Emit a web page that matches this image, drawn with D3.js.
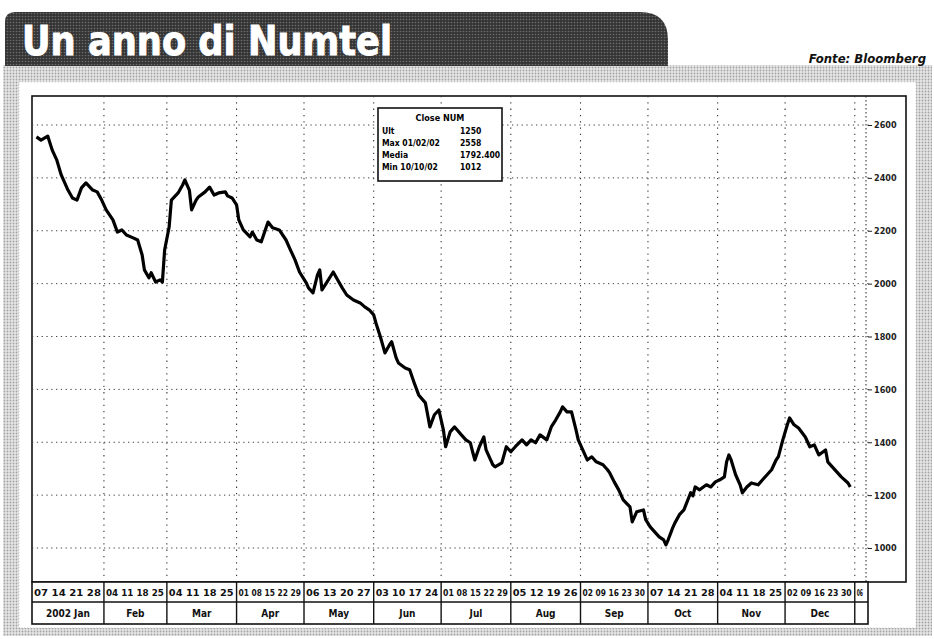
<!DOCTYPE html>
<html>
<head>
<meta charset="utf-8">
<script src="https://cdn.jsdelivr.net/npm/d3@7"></script>
<style>
  body { margin: 0; background: #fff; }
  text { font-family: "Liberation Sans Narrow", "DejaVu Sans Condensed", "Liberation Sans", sans-serif; }
</style>
</head>
<body>
<svg id="chart"></svg>
<script>
// Price series (close)
const dates = [
  "2002-01-02","2002-01-04","2002-01-07","2002-01-09","2002-01-11","2002-01-13","2002-01-16","2002-01-18","2002-01-20","2002-01-22",
  "2002-01-24","2002-01-27","2002-01-29","2002-01-31","2002-02-02","2002-02-05","2002-02-07","2002-02-09","2002-02-11","2002-02-14",
  "2002-02-16","2002-02-18","2002-02-19","2002-02-21","2002-02-22","2002-02-24","2002-02-26","2002-02-27","2002-02-28","2002-03-02",
  "2002-03-03","2002-03-06","2002-03-08","2002-03-09","2002-03-11","2002-03-12","2002-03-14","2002-03-15","2002-03-18","2002-03-20",
  "2002-03-22","2002-03-24","2002-03-27","2002-03-28","2002-03-30","2002-04-01","2002-04-02","2002-04-04","2002-04-07","2002-04-08",
  "2002-04-10","2002-04-12","2002-04-15","2002-04-17","2002-04-20","2002-04-23","2002-04-25","2002-04-27","2002-04-29","2002-05-02",
  "2002-05-03","2002-05-05","2002-05-07","2002-05-08","2002-05-09","2002-05-11","2002-05-14","2002-05-16","2002-05-18","2002-05-20",
  "2002-05-23","2002-05-26","2002-05-28","2002-05-30","2002-06-01","2002-06-02","2002-06-04","2002-06-06","2002-06-08","2002-06-09",
  "2002-06-11","2002-06-12","2002-06-15","2002-06-17","2002-06-19","2002-06-21","2002-06-24","2002-06-25","2002-06-26","2002-06-28",
  "2002-06-30","2002-07-02","2002-07-03","2002-07-05","2002-07-07","2002-07-10","2002-07-12","2002-07-14","2002-07-15","2002-07-16",
  "2002-07-18","2002-07-20","2002-07-21","2002-07-23","2002-07-24","2002-07-25","2002-07-28","2002-07-30","2002-08-01","2002-08-03",
  "2002-08-06","2002-08-08","2002-08-10","2002-08-12","2002-08-14","2002-08-17","2002-08-19","2002-08-21","2002-08-23","2002-08-24",
  "2002-08-26","2002-08-28","2002-08-30","2002-08-31","2002-09-02","2002-09-04","2002-09-06","2002-09-08","2002-09-11","2002-09-13",
  "2002-09-14","2002-09-16","2002-09-18","2002-09-20","2002-09-23","2002-09-24","2002-09-26","2002-09-29","2002-09-30","2002-10-02",
  "2002-10-04","2002-10-06","2002-10-08","2002-10-09","2002-10-10","2002-10-12","2002-10-13","2002-10-15","2002-10-17","2002-10-20",
  "2002-10-21","2002-10-22","2002-10-24","2002-10-27","2002-10-29","2002-10-31","2002-11-02","2002-11-04","2002-11-05","2002-11-06",
  "2002-11-07","2002-11-09","2002-11-11","2002-11-12","2002-11-14","2002-11-16","2002-11-19","2002-11-21","2002-11-23","2002-11-25",
  "2002-11-27","2002-11-28","2002-11-30","2002-12-02","2002-12-03","2002-12-05","2002-12-07","2002-12-10","2002-12-12","2002-12-14",
  "2002-12-16","2002-12-19","2002-12-20","2002-12-22","2002-12-24","2002-12-26","2002-12-29","2002-12-30"
];
const closes = [
  2555,2543,2558,2505,2468,2411,2354,2324,2316,2362,
  2381,2354,2347,2316,2279,2241,2195,2203,2184,2173,
  2165,2108,2052,2022,2041,2006,2014,2006,2127,2214,
  2316,2343,2373,2392,2354,2279,2316,2328,2347,2365,
  2335,2343,2347,2332,2324,2298,2241,2203,2177,2195,
  2165,2158,2233,2211,2203,2165,2127,2090,2044,2003,
  1984,1965,2033,2052,1976,2003,2044,2014,1984,1957,
  1938,1927,1912,1901,1882,1851,1798,1738,1768,1780,
  1719,1700,1681,1674,1625,1579,1549,1504,1458,1504,
  1522,1447,1383,1439,1458,1428,1409,1398,1364,1333,
  1383,1420,1371,1333,1315,1307,1322,1383,1364,1383,
  1409,1390,1409,1398,1428,1409,1458,1485,1515,1534,
  1515,1515,1447,1409,1371,1333,1345,1326,1315,1296,
  1284,1250,1220,1182,1156,1099,1137,1144,1107,1080,
  1061,1042,1031,1012,1031,1076,1095,1126,1144,1209,
  1197,1231,1220,1239,1231,1250,1258,1269,1326,1352,
  1333,1277,1239,1209,1231,1246,1239,1258,1277,1296,
  1333,1345,1409,1466,1492,1466,1454,1420,1383,1390,
  1352,1371,1326,1307,1288,1269,1246,1231
];

const yTicks = [1000, 1200, 1400, 1600, 1800, 2000, 2200, 2400, 2600];
const monthNames = ["2002 Jan", "Feb", "Mar", "Apr", "May", "Jun", "Jul", "Aug", "Sep", "Oct", "Nov", "Dec", ""];

const titleText = "Un anno di Numtel";
const sourceText = "Fonte: Bloomberg";
const legendTitle = "Close NUM";
const legendLabels = ["Ult", "Max 01/02/02", "Media", "Min 10/10/02"];
const legendValues = ["1250", "2558", "1792.400", "1012"];

const width = 934, height = 639;
const plot = { left: 32, right: 866, top: 96, bottom: 582, axisRight: 906 };
const table = { row1: 582, row2: 602, bottom: 624 };

const svg = d3.select("#chart").attr("width", width).attr("height", height);
const defs = svg.append("defs");

// halftone-ish textures for the printed look
const bannerPat = defs.append("pattern").attr("id", "bannerPat")
    .attr("width", 3).attr("height", 3).attr("patternUnits", "userSpaceOnUse");
bannerPat.append("rect").attr("width", 3).attr("height", 3).attr("fill", "#353535");
bannerPat.append("circle").attr("cx", 1.5).attr("cy", 1.5).attr("r", 0.8).attr("fill", "#6e6e6e");

const framePat = defs.append("pattern").attr("id", "framePat")
    .attr("width", 3).attr("height", 3).attr("patternUnits", "userSpaceOnUse");
framePat.append("rect").attr("width", 3).attr("height", 3).attr("fill", "#e6e6e6");
framePat.append("circle").attr("cx", 1.5).attr("cy", 1.5).attr("r", 0.9).attr("fill", "#a3a3a3");

// outer textured frame + white panel
svg.append("rect").attr("x", 3).attr("y", 65).attr("width", 929).attr("height", 571)
    .attr("fill", "url(#framePat)");
svg.append("rect").attr("x", 19).attr("y", 82).attr("width", 897).attr("height", 546)
    .attr("fill", "#fff").attr("stroke", "#c8c8c8").attr("stroke-dasharray", "1,2");

// title banner
svg.append("path")
    .attr("d", "M5,66 V22 Q5,12 15,12 H640 Q668,12 668,40 V66 Z")
    .attr("fill", "url(#bannerPat)");
svg.append("text")
    .attr("x", 22).attr("y", 55)
    .attr("font-size", 41).attr("font-weight", "bold")
    .attr("fill", "#fff").attr("stroke", "#fff").attr("stroke-width", 0.9)
    .attr("textLength", 370).attr("lengthAdjust", "spacingAndGlyphs")
    .text(titleText);
svg.append("text")
    .attr("x", 926).attr("y", 63)
    .attr("text-anchor", "end")
    .attr("font-size", 13).attr("font-weight", "bold").attr("font-style", "italic")
    .attr("fill", "#111")
    .text(sourceText);

// scales
const parseDate = d3.timeParse("%Y-%m-%d");
const series = dates.map((d, i) => ({ date: parseDate(d), close: closes[i] }));

const x = d3.scaleTime()
    .domain([new Date(2001, 11, 31), new Date(2003, 0, 6)])
    .range([plot.left, plot.right]);
const y = d3.scaleLinear()
    .domain([1000, 2600])
    .range([548, 125]);

// plot box and axis panel
svg.append("rect")
    .attr("x", plot.left).attr("y", plot.top)
    .attr("width", plot.axisRight - plot.left).attr("height", plot.bottom - plot.top)
    .attr("fill", "#fff").attr("stroke", "#111").attr("stroke-width", 1.6);
svg.append("line")
    .attr("x1", plot.right).attr("x2", plot.right)
    .attr("y1", plot.top).attr("y2", plot.bottom)
    .attr("stroke", "#222").attr("stroke-width", 1).attr("stroke-dasharray", "1.5,2.5");

// month boundaries
const monthStarts = d3.timeMonth.range(new Date(2002, 1, 1), new Date(2003, 0, 2));
const bounds = [plot.left, ...monthStarts.map(d => x(d)), plot.right];

// grid
const grid = svg.append("g");
grid.selectAll(".vgrid").data(monthStarts).enter().append("line")
    .attr("class", "vgrid")
    .attr("x1", d => x(d)).attr("x2", d => x(d))
    .attr("y1", plot.top).attr("y2", plot.bottom)
    .attr("stroke", "#333").attr("stroke-width", 1.1).attr("stroke-dasharray", "1.3,5");
grid.selectAll(".hgrid").data(yTicks).enter().append("line")
    .attr("class", "hgrid")
    .attr("x1", plot.left).attr("x2", plot.right + 5)
    .attr("y1", d => y(d)).attr("y2", d => y(d))
    .attr("stroke", "#444").attr("stroke-width", 1).attr("stroke-dasharray", "1.3,3.5");

// right axis labels
const yAxis = d3.axisRight(y).tickValues(yTicks).tickSize(4).tickPadding(2).tickFormat(d3.format("d"));
const yAxisG = svg.append("g").attr("transform", `translate(${plot.right + 2},0)`).call(yAxis);
yAxisG.select(".domain").remove();
yAxisG.selectAll("line").attr("stroke", "#222");
yAxisG.selectAll("text")
    .attr("font-size", 9).attr("font-weight", "bold").attr("fill", "#222")
    .attr("font-family", "\"Liberation Sans Narrow\", \"DejaVu Sans Condensed\", sans-serif");

// price line
const line = d3.line().x(d => x(d.date)).y(d => y(d.close));
svg.append("path")
    .datum(series)
    .attr("d", line)
    .attr("fill", "none")
    .attr("stroke", "#000")
    .attr("stroke-width", 3.2)
    .attr("stroke-linejoin", "round");

// legend box
const lg = svg.append("g");
lg.append("rect").attr("x", 378).attr("y", 108).attr("width", 124).attr("height", 73)
    .attr("fill", "#fff").attr("stroke", "#111").attr("stroke-width", 1.6);
lg.append("text").attr("x", 440).attr("y", 121).attr("text-anchor", "middle")
    .attr("font-size", 9).attr("font-weight", "bold").text(legendTitle);
lg.selectAll(".lgl").data(legendLabels).enter().append("text")
    .attr("class", "lgl")
    .attr("x", 382).attr("y", (d, i) => 134 + i * 12)
    .attr("font-size", 8.5).attr("font-weight", "bold").text(d => d);
lg.selectAll(".lgv").data(legendValues).enter().append("text")
    .attr("class", "lgv")
    .attr("x", 460).attr("y", (d, i) => 134 + i * 12)
    .attr("font-size", 8.5).attr("font-weight", "bold").text(d => d);

// date table under the plot
const cells = d3.range(bounds.length - 1).map(i => ({
    x0: bounds[i], x1: bounds[i + 1], name: monthNames[i],
    start: i === 0 ? new Date(2002, 0, 1) : monthStarts[i - 1],
    end: monthStarts[i] || new Date(2003, 0, 7)
}));

const tbl = svg.append("g");
tbl.append("rect")
    .attr("x", plot.left).attr("y", table.row1)
    .attr("width", plot.right + 2 - plot.left).attr("height", table.bottom - table.row1)
    .attr("fill", "#fff").attr("stroke", "#111").attr("stroke-width", 1.6);
tbl.append("line")
    .attr("x1", plot.left).attr("x2", plot.right + 2)
    .attr("y1", table.row2).attr("y2", table.row2)
    .attr("stroke", "#111").attr("stroke-width", 1.4);
tbl.selectAll(".sep").data(monthStarts).enter().append("line")
    .attr("class", "sep")
    .attr("x1", d => x(d)).attr("x2", d => x(d))
    .attr("y1", table.row1).attr("y2", table.bottom)
    .attr("stroke", "#111").attr("stroke-width", 1.4);

// week-start days, squeezed into each month cell like the print
const fmtDay = d3.timeFormat("%d");
tbl.selectAll(".wk").data(cells).enter().append("text")
    .attr("class", "wk")
    .attr("x", d => d.x0 + 2).attr("y", table.row1 + 14)
    .attr("font-size", 8).attr("font-weight", "bold").attr("fill", "#111")
    .attr("textLength", d => Math.max(4, d.x1 - d.x0 - 5))
    .attr("lengthAdjust", "spacingAndGlyphs")
    .text(d => {
        const mondays = d3.timeMonday.range(d.start, d.end);
        return mondays.length ? mondays.map(fmtDay).join(" ") : "6";
    });
tbl.selectAll(".mn").data(cells).enter().append("text")
    .attr("class", "mn")
    .attr("x", d => (d.x0 + d.x1) / 2).attr("y", table.row2 + 15)
    .attr("text-anchor", "middle")
    .attr("font-size", 10).attr("font-weight", "bold").attr("fill", "#111")
    .text(d => d.name);
</script>
</body>
</html>
